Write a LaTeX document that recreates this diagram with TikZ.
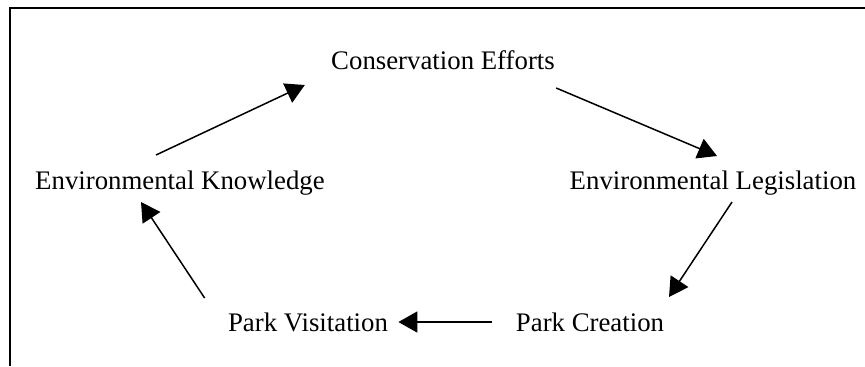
\documentclass[tikz,border=0pt]{standalone}
\usepackage{fontspec}
\setmainfont{Liberation Serif}
\usepackage{tikz}
\usetikzlibrary{calc,arrows.meta}

\begin{document}
\begin{tikzpicture}[x=0.5pt,y=-0.5pt]
        \tikzstyle{stage}=[inner sep=0pt,anchor=base,font=\fontsize{13.4pt}{16pt}\selectfont]
        \tikzstyle{cycle}=[line width=0.75pt,black,-{Triangle[length=9.5pt,width=10.5pt]}]
        \useasboundingbox (0,0) rectangle (865,366);
        \draw[line width=1pt] (10,366) -- (10,8) -- (865,8);
        \node at (443,69) [stage] (effort) {Conservation Efforts};
        \node at (713,189) [stage] (law) {Environmental Legislation};
        \node at (590,331) [stage] (create) {Park Creation};
        \node at (308,331) [stage] (visit) {Park Visitation};
        \node at (180,189) [stage] (know) {Environmental Knowledge};
        \draw[cycle] ($(know.base)+(-24,-34)$) -- ($(effort.base west)+(-26,16)$);
        \draw[cycle] ($(effort.base east)+(1,19)$) -- ($(law.base)+(4,-33)$);
        \draw[cycle] ($(law.base)+(19,13)$) -- ($(create.base)+(79,-34)$);
        \draw[cycle] ($(create.base west)+(-24,-9)$) -- ($(visit.base east)+(10,-9)$);
        \draw[cycle] ($(visit.base west)+(-23,-33)$) -- ($(know.base)+(-39,13)$);
        %\draw [->] (know) -- (effort);
      \end{tikzpicture}
\end{document}
